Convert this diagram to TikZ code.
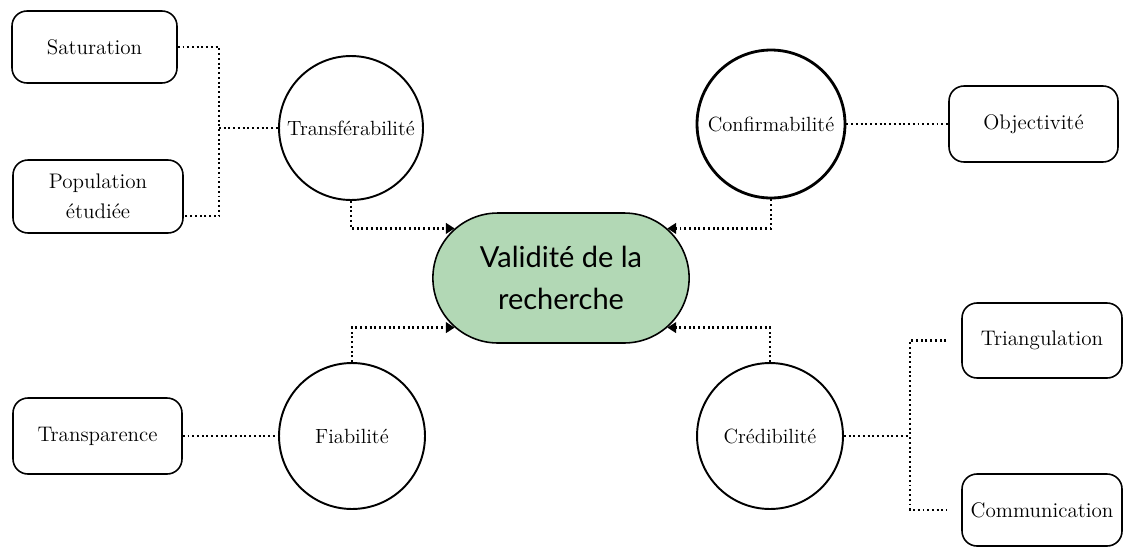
\documentclass[tikz,border=0pt]{standalone}
\usepackage{fontspec}
\newfontfamily\centerfont{Lato}
\usetikzlibrary{shapes.misc,arrows.meta}
\definecolor{vgreen}{HTML}{B2D8B5}
\begin{document}
\begin{tikzpicture}[x=0.02cm,y=-0.02cm,
  lbox/.style={draw, line width=0.9pt, rounded corners=8.5pt, align=center, inner sep=2pt, font=\fontsize{12}{17}\selectfont},
  circ/.style={draw, circle, line width=1.1pt, inner sep=0pt, font=\fontsize{11.7}{14}\selectfont},
  dotl/.style={line width=1.3pt, dash pattern=on 1.1pt off 1.6pt},
  arr/.style={dotl, -{Triangle[length=5pt,width=6pt]}}
]
\useasboundingbox (0,0) rectangle (1124,548);
% boxes
\node[lbox, minimum width=3.3cm, minimum height=1.44cm] (sat) at (94.5,47) {Saturation};
\node[lbox, minimum width=3.4cm, minimum height=1.46cm] (pop) at (98,196.5) {Population\\étudiée};
\node[lbox, minimum width=3.38cm, minimum height=1.52cm] (tra) at (97.5,436) {Transparence};
\node[lbox, minimum width=3.38cm, minimum height=1.52cm] (obj) at (1033.5,124) {Objectivité};
\node[lbox, minimum width=3.2cm, minimum height=1.5cm] (tri) at (1042,340.5) {Triangulation};
\node[lbox, minimum width=3.2cm, minimum height=1.44cm] (com) at (1042,510) {Communication};
% circles
\node[circ, minimum size=2.88cm] (trans) at (351,128) {Transférabilité};
\node[circ, line width=1.6pt, minimum size=2.96cm] (conf) at (771,124) {Confirmabilité};
\node[circ, minimum size=2.92cm] (fiab) at (352,436) {Fiabilité};
\node[circ, minimum size=2.92cm] (cred) at (770,436) {Crédibilité};
% center
\node[rounded rectangle, draw, line width=0.9pt, fill=vgreen, minimum width=5.36cm, minimum height=2.6cm, align=center,
  font=\centerfont\fontsize{16.5}{24}\selectfont] (val) at (561,278) {Validité de la\\recherche};
% junctions
\coordinate (tj) at (219,128);
\coordinate (cj) at (910,436);
% connectors
\draw[dotl] (sat.east) -| (tj) |- ([yshift=-0.39cm]pop.east);
\draw[dotl] (tj) -- (trans.west);
\draw[dotl] (conf.east) -- (obj.west);
\draw[dotl] (tra.east) -- (fiab.west);
\draw[dotl] (cred.east) -- (cj);
\draw[dotl] ([xshift=-0.3cm]tri.west) -| (cj) |- ([xshift=-0.3cm]com.west);
\draw[arr] (trans.south) |- (val.155);
\draw[arr] (conf.south) |- (val.25);
\draw[arr] (fiab.north) |- (val.205);
\draw[arr] (cred.north) |- (val.335);
\end{tikzpicture}
\end{document}
